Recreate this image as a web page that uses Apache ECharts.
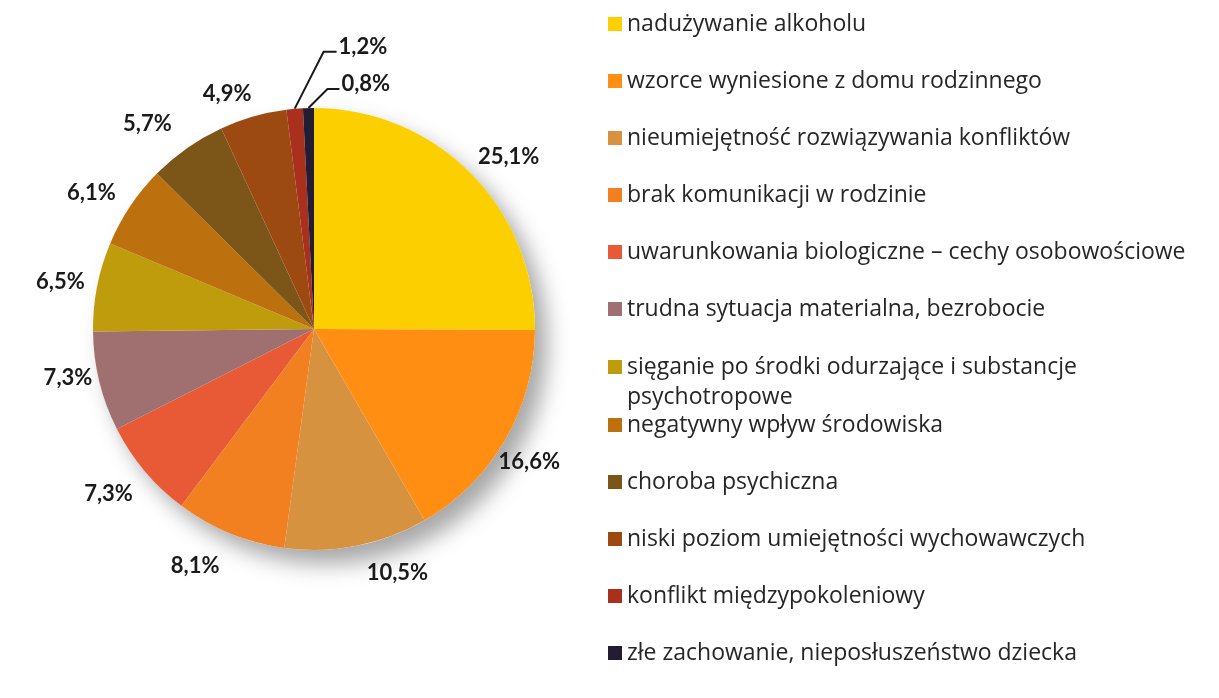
<!DOCTYPE html>
<html>
<head>
    <meta charset="UTF-8">
    <title>Przyczyny przemocy w rodzinie</title>
    <script src="https://cdn.jsdelivr.net/npm/echarts@6/dist/echarts.min.js"></script>
    <style>
        html, body {
            margin: 0;
            padding: 0;
            background: #ffffff;
        }

        #chart {
            width: 1219px;
            height: 698px;
        }
    </style>
</head>
<body>
    <div id="chart"></div>

    <script type="text/javascript">
        // kategorie (kolejnosc jak w legendzie)
        var categories = [
            'nadużywanie alkoholu',
            'wzorce wyniesione z domu rodzinnego',
            'nieumiejętność rozwiązywania konfliktów',
            'brak komunikacji w rodzinie',
            'uwarunkowania biologiczne – cechy osobowościowe',
            'trudna sytuacja materialna, bezrobocie',
            'sięganie po środki odurzające i substancje psychotropowe',
            'negatywny wpływ środowiska',
            'choroba psychiczna',
            'niski poziom umiejętności wychowawczych',
            'konflikt międzypokoleniowy',
            'złe zachowanie, nieposłuszeństwo dziecka'
        ];

        // udzial procentowy
        var shares = [25.1, 16.6, 10.5, 8.1, 7.3, 7.3, 6.5, 6.1, 5.7, 4.9, 1.2, 0.8];

        var colors = ['#FCD000', '#FF8E12', '#D79240', '#F28021', '#E85A35', '#A07070',
                      '#BE9C0C', '#BD700E', '#7C5618', '#9C4A12', '#A8301C', '#231C33'];

        // drobne przesuniecia etykiet (jak w oryginale)
        var labelNudge = [[10, 12], [-10, 2], [33, -12], [-20, -4], [-6, -3], [7, -13],
                          [2, 3], [-6, 9], [-17, 8], [-15, 15], [0, 0], [0, 0]];

        // male wycinki maja etykiete z linia (po prawej stronie)
        var leaderOffsets = { 10: [[29, -57], [13, 0]], 11: [[19, -19], [12, 0]] };

        function fmt(v) {
            return v.toFixed(1).replace('.', ',') + '%';
        }

        var center = [314, 329];

        var pieData = categories.map(function (name, i) {
            var small = leaderOffsets[i] != null;
            return {
                name: name,
                value: shares[i],
                itemStyle: { color: colors[i] },
                label: { show: small },
                labelLine: { show: small }
            };
        });

        var ringData = categories.map(function (name, i) {
            return {
                name: name,
                value: shares[i],
                label: { show: leaderOffsets[i] == null }
            };
        });

        // legenda w trzech czesciach: pozycja dwuwierszowa osobno
        var legendA = categories.slice(0, 6);
        var legendC = categories.slice(6, 7);
        var legendB = categories.slice(7);

        var myChart = echarts.init(document.getElementById('chart'));

        var baseLegend = {
            orient: 'vertical',
            left: 603,
            itemWidth: 14,
            itemHeight: 14,
            itemGap: 27,
            icon: 'rect',
            selectedMode: false,
            textStyle: {
                fontFamily: 'Open Sans',
                fontSize: 23,
                color: '#262626',
                lineHeight: 30
            }
        };

        var option = {
            backgroundColor: '#ffffff',
            animation: false,
            legend: [
                Object.assign({}, baseLegend, { top: 4, data: legendA }),
                Object.assign({}, baseLegend, {
                    top: 317,
                    data: legendC,
                    // pusty wiersz u gory, aby znacznik stal przy pierwszym wierszu
                    formatter: function (name) {
                        return '\n' + name.replace(' substancje psychotropowe', ' substancje\npsychotropowe');
                    }
                }),
                Object.assign({}, baseLegend, { top: 405, data: legendB })
            ],
            series: [
                {
                    // cien pod kolem
                    type: 'pie',
                    silent: true,
                    center: center,
                    radius: 221,
                    label: { show: false },
                    labelLine: { show: false },
                    itemStyle: {
                        color: '#ffffff',
                        shadowBlur: 22,
                        shadowColor: 'rgba(0,0,0,0.35)',
                        shadowOffsetX: 12,
                        shadowOffsetY: 14
                    },
                    data: [{ value: 1, name: '' }]
                },
                {
                    type: 'pie',
                    silent: true,
                    center: center,
                    radius: 221,
                    startAngle: 90,
                    clockwise: true,
                    avoidLabelOverlap: false,
                    label: {
                        position: 'outside',
                        formatter: function (p) { return fmt(p.value); },
                        fontFamily: 'Lato',
                        fontWeight: 'bold',
                        fontSize: 22,
                        color: '#1a1a1a'
                    },
                    labelLine: {
                        length: 20,
                        length2: 10,
                        smooth: false,
                        lineStyle: { color: '#1a1a1a', width: 2 }
                    },
                    labelLayout: function (params) {
                        var off = leaderOffsets[params.dataIndex];
                        if (!off || !params.labelLinePoints) {
                            return {};
                        }
                        var p0 = params.labelLinePoints[0];
                        var p1 = [p0[0] + off[0][0], p0[1] + off[0][1]];
                        var p2 = [p1[0] + off[1][0], p1[1] + off[1][1]];
                        return {
                            x: p2[0] + 2,
                            y: p2[1] - 5,
                            align: 'left',
                            verticalAlign: 'middle',
                            labelLinePoints: [p0, p1, p2]
                        };
                    },
                    data: pieData
                },
                {
                    // niewidoczny pierscien tylko dla etykiet procentowych
                    type: 'pie',
                    silent: true,
                    center: center,
                    radius: [235, 280],
                    startAngle: 90,
                    clockwise: true,
                    itemStyle: { color: 'rgba(0,0,0,0)' },
                    label: {
                        position: 'inside',
                        rotate: 0,
                        formatter: function (p) { return fmt(p.value); },
                        fontFamily: 'Lato',
                        fontWeight: 'bold',
                        fontSize: 22,
                        color: '#1a1a1a'
                    },
                    labelLayout: function (params) {
                        var n = labelNudge[params.dataIndex];
                        return { dx: n[0], dy: n[1] };
                    },
                    labelLine: { show: false },
                    data: ringData
                }
            ]
        };

        myChart.setOption(option);
    </script>
</body>
</html>
